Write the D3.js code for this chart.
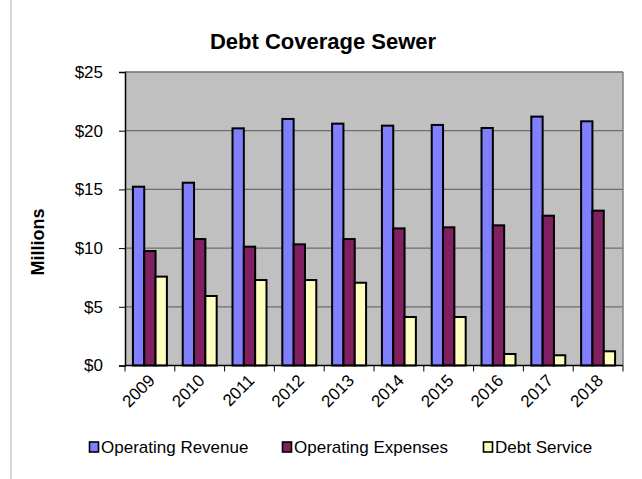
<!DOCTYPE html>
<html>
<head>
<meta charset="utf-8">
<script src="https://cdn.jsdelivr.net/npm/d3@7/dist/d3.min.js"></script>
<style>
  html, body { margin: 0; padding: 0; background: #fff; }
  svg { display: block; font-family: Arial, "Liberation Sans", sans-serif; }
</style>
</head>
<body>
<svg id="chart" width="642" height="479"></svg>
<script>
// Sewer fund debt coverage, in millions of dollars
const years = ["2009", "2010", "2011", "2012", "2013", "2014", "2015", "2016", "2017", "2018"];
const seriesNames = ["Operating Revenue", "Operating Expenses", "Debt Service"];
const operatingRevenue = [15.23, 15.57, 20.2, 21.0, 20.6, 20.43, 20.49, 20.23, 21.2, 20.8];
const operatingExpenses = [9.75, 10.77, 10.12, 10.32, 10.77, 11.68, 11.77, 11.94, 12.76, 13.19];
const debtService = [7.57, 5.92, 7.28, 7.28, 7.05, 4.13, 4.13, 0.98, 0.87, 1.21];
const yTicks = [0, 5, 10, 15, 20, 25];
const colors = ["#8080FF", "#802060", "#FFFFC0"];

const seriesValues = [operatingRevenue, operatingExpenses, debtService];
const rows = years.map((y, i) => ({
  year: y,
  values: seriesNames.map((name, s) => ({ name, value: seriesValues[s][i] }))
}));

const svg = d3.select("#chart");
const plot = { left: 125, top: 72, right: 623, bottom: 365.5 };

// Outer frame edge on the left
svg.append("line")
  .attr("x1", 11).attr("x2", 11).attr("y1", 0).attr("y2", 479)
  .attr("stroke", "#b4b4b4").attr("stroke-width", 1);

const x0 = d3.scaleBand().domain(years).range([plot.left, plot.right]).padding(0);
const bw = x0.bandwidth();
const x1 = d3.scaleBand().domain(seriesNames).range([bw * 0.159, bw * 0.841]).padding(0);
const y = d3.scaleLinear().domain([0, 25]).range([plot.bottom, plot.top]);

// Plot area background
svg.append("rect")
  .attr("x", plot.left).attr("y", plot.top)
  .attr("width", plot.right - plot.left).attr("height", plot.bottom - plot.top)
  .attr("fill", "#C0C0C0");

// Horizontal gridlines
svg.append("g").selectAll("line")
  .data(yTicks.filter(t => t > 0))
  .join("line")
  .attr("x1", plot.left).attr("x2", plot.right)
  .attr("y1", d => y(d)).attr("y2", d => y(d))
  .attr("stroke", "#6e6e6e").attr("stroke-width", 1.2);

// Right border of the plot area
svg.append("line")
  .attr("x1", plot.right).attr("x2", plot.right)
  .attr("y1", plot.top).attr("y2", plot.bottom)
  .attr("stroke", "#808080").attr("stroke-width", 1.5);
svg.append("line")
  .attr("x1", plot.left).attr("x2", plot.right)
  .attr("y1", plot.top).attr("y2", plot.top)
  .attr("stroke", "#808080").attr("stroke-width", 1.5);

// Bars
const groups = svg.append("g").selectAll("g")
  .data(rows)
  .join("g")
  .attr("transform", d => `translate(${x0(d.year)},0)`);

groups.selectAll("rect")
  .data(d => d.values)
  .join("rect")
  .attr("x", d => x1(d.name))
  .attr("y", d => y(d.value))
  .attr("width", x1.bandwidth())
  .attr("height", d => y(0) - y(d.value))
  .attr("fill", (d, i) => colors[i])
  .attr("stroke", "#000")
  .attr("stroke-width", 2);

// Y axis
const yAxis = d3.axisLeft(y)
  .tickValues(yTicks)
  .tickSize(6)
  .tickPadding(16)
  .tickFormat(d => "$" + d);
const yg = svg.append("g")
  .attr("transform", `translate(${plot.left},0)`)
  .call(yAxis);
yg.select(".domain").attr("stroke", "#000").attr("stroke-width", 1.5);
yg.selectAll(".tick line").attr("stroke", "#000");
yg.selectAll(".tick text")
  .attr("font-size", 17)
  .attr("font-family", "Arial, 'Liberation Sans', sans-serif")
  .attr("fill", "#000");

// X axis: baseline with tick marks at category boundaries
svg.append("line")
  .attr("x1", plot.left).attr("x2", plot.right)
  .attr("y1", plot.bottom).attr("y2", plot.bottom)
  .attr("stroke", "#000").attr("stroke-width", 1.5);
svg.append("g").selectAll("line")
  .data(years.map(yr => x0(yr)).concat([plot.right]))
  .join("line")
  .attr("x1", d => d).attr("x2", d => d)
  .attr("y1", plot.bottom).attr("y2", plot.bottom + 6)
  .attr("stroke", "#000").attr("stroke-width", 1);

// Year labels, rotated
svg.append("g").selectAll("text")
  .data(years)
  .join("text")
  .attr("transform", d => `translate(${x0(d) + bw / 2 + 6},${plot.bottom + 16}) rotate(-45)`)
  .attr("text-anchor", "end")
  .attr("font-size", 17)
  .attr("fill", "#000")
  .text(d => d);

// Title
svg.append("text")
  .attr("x", 323).attr("y", 49)
  .attr("text-anchor", "middle")
  .attr("font-size", 22)
  .attr("font-weight", "bold")
  .attr("fill", "#000")
  .text("Debt Coverage Sewer");

// Y axis title
svg.append("text")
  .attr("transform", "translate(44,242) rotate(-90)")
  .attr("text-anchor", "middle")
  .attr("font-size", 18)
  .attr("font-weight", "bold")
  .attr("fill", "#000")
  .text("Millions");

// Legend
const legendX = [89, 282, 483];
const legend = svg.append("g").selectAll("g")
  .data(seriesNames)
  .join("g")
  .attr("transform", (d, i) => `translate(${legendX[i]},447)`);
legend.append("rect")
  .attr("x", 0.5).attr("y", -5)
  .attr("width", 9).attr("height", 10)
  .attr("fill", (d, i) => colors[i])
  .attr("stroke", "#000").attr("stroke-width", 1.6);
legend.append("text")
  .attr("x", 12).attr("y", 6)
  .attr("font-size", 17)
  .attr("fill", "#000")
  .text(d => d);
</script>
</body>
</html>
